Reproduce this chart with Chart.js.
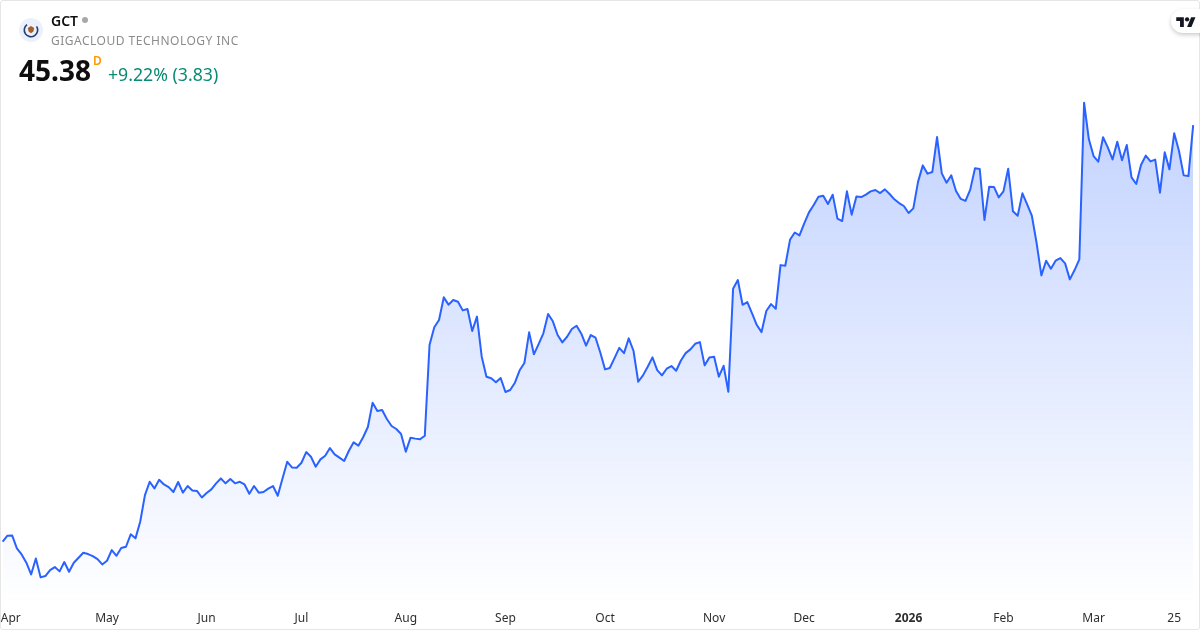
<!DOCTYPE html>
<html>
<head>
<meta charset="utf-8">
<title>GCT</title>
<script src="https://cdn.jsdelivr.net/npm/chart.js@4/dist/chart.umd.min.js"></script>
<style>
    html, body { margin: 0; padding: 0; background: #fff; }
    #wrap { position: relative; width: 1200px; height: 630px; overflow: hidden; font-family: "Noto Sans", sans-serif; }
    #frame { position: absolute; left: 0; top: 0; width: 1198px; height: 628px; border: 1px solid #e6e6e6; border-radius: 3px; pointer-events: none; }
    #logo { position: absolute; left: 19px; top: 18px; }
    .txt { position: absolute; white-space: nowrap; line-height: 1; }
    #symbol { left: 51px; top: 14px; font-size: 14px; font-weight: 600; color: #0f0f0f; }
    #dot { position: absolute; left: 82px; top: 17px; width: 6px; height: 6px; border-radius: 50%; background: #a8a8a8; }
    #name { left: 51px; top: 35px; font-size: 12px; color: #8c8c8c; letter-spacing: 0.5px; }
    #price { left: 19px; top: 56px; font-size: 28px; font-weight: 700; color: #0f0f0f; }
    #interval { left: 93px; top: 55px; font-size: 12px; font-weight: 600; color: #ff9800; }
    #change { left: 108px; top: 66px; font-size: 17.7px; color: #0a8a73; }
    #badge { position: absolute; left: 1171px; top: 9px; width: 40px; height: 24px; border-radius: 12px; background: #fff; box-shadow: 0 2px 4px rgba(0,0,0,0.2); }
    #tv { position: absolute; left: 1176px; top: 15px; }
</style>
</head>
<body>
<div id="wrap">
    <canvas id="chart" width="1200" height="630"></canvas>
    <div id="frame"></div>
    <svg id="logo" width="24" height="24" viewBox="0 0 24 24">
        <circle cx="12" cy="12" r="12" fill="#ebf0fa"/>
        <path d="M17.6 8.4A6.7 6.7 0 1 1 8 6.6" fill="none" stroke="#1f3f78" stroke-width="1.6"/>
        <path d="M8.8 10l3.2-2 3.2 2-.8 3.6-2.4 1.6-2.4-1.6z" fill="#a5602c"/>
    </svg>
    <div id="symbol" class="txt">GCT</div>
    <div id="dot"></div>
    <div id="name" class="txt">GIGACLOUD TECHNOLOGY INC</div>
    <div id="price" class="txt">45.38</div>
    <div id="interval" class="txt">D</div>
    <div id="change" class="txt">+9.22% (3.83)</div>
    <div id="badge"></div>
    <svg id="tv" width="20" height="13" viewBox="0 0 36 24">
        <path d="M14 22H7V11H0V4h14v18zM28 22h-8l7.5-18h8L28 22z" fill="#131722"/>
        <circle cx="20" cy="8" r="4" fill="#131722"/>
    </svg>
</div>
<script>
// daily closes
const closes = [
    14.09, 14.54, 14.56, 13.59, 13.13, 12.51, 11.63, 12.83, 11.41, 11.51, 11.96, 12.18,
    11.86, 12.56, 11.83, 12.51, 12.88, 13.26, 13.16, 13.01, 12.78, 12.38, 12.66, 13.46,
    13.03, 13.61, 13.71, 14.64, 14.34, 15.59, 17.59, 18.59, 18.09, 18.74, 18.39, 18.19,
    17.82, 18.57, 17.77, 18.27, 17.94, 17.89, 17.41, 17.74, 18.02, 18.47, 18.84, 18.47,
    18.79, 18.47, 18.59, 18.39, 17.69, 18.27, 17.77, 17.82, 18.07, 18.27, 17.54, 18.84,
    20.09, 19.67, 19.64, 20.02, 20.82, 20.47, 19.72, 20.27, 20.55, 21.12, 20.65, 20.40,
    20.15, 20.92, 21.55, 21.30, 21.93, 22.70, 24.53, 23.90, 23.98, 23.30, 22.78, 22.55,
    22.18, 20.85, 21.90, 21.83, 21.78, 22.05, 28.86, 30.19, 30.74, 32.44, 31.89, 32.24,
    32.11, 31.46, 31.56, 29.91, 30.99, 27.98, 26.48, 26.36, 26.06, 26.38, 25.33, 25.48,
    26.03, 26.96, 27.51, 29.81, 28.16, 28.93, 29.74, 31.19, 30.64, 29.61, 29.06, 29.48,
    30.06, 30.31, 29.71, 28.81, 29.61, 29.41, 28.30, 27.03, 27.13, 27.88, 28.65, 28.25,
    29.36, 28.43, 26.10, 26.58, 27.23, 27.93, 26.98, 26.58, 27.08, 27.28, 26.93, 27.70,
    28.25, 28.53, 28.95, 29.08, 27.33, 27.93, 27.98, 26.48, 27.30, 25.35, 33.08, 33.74,
    31.88, 32.08, 31.23, 30.36, 29.83, 31.41, 31.93, 31.58, 34.86, 34.81, 36.76, 37.31,
    37.09, 38.00, 38.82, 39.37, 40.00, 40.07, 39.45, 40.15, 38.35, 38.17, 40.40, 38.65,
    40.02, 39.97, 40.15, 40.40, 40.50, 40.27, 40.55, 40.20, 39.80, 39.52, 39.30, 38.77,
    39.12, 41.13, 42.35, 41.73, 41.85, 44.48, 41.75, 41.05, 41.60, 40.43, 39.83, 39.68,
    40.53, 42.13, 42.08, 38.25, 40.75, 40.73, 39.95, 40.40, 42.10, 38.90, 38.57, 40.25,
    39.42, 38.55, 36.50, 34.09, 35.19, 34.59, 35.19, 35.39, 34.99, 33.79, 34.49, 35.29,
    47.06, 44.33, 43.05, 42.63, 44.46, 43.70, 42.80, 44.13, 42.73, 43.88, 41.45, 40.95,
    42.38, 43.08, 42.65, 42.78, 40.30, 43.33, 42.05, 44.76, 43.45, 41.60, 41.55, 45.38
];
const tickLabels = ['Apr', 'May', 'Jun', 'Jul', 'Aug', 'Sep', 'Oct', 'Nov', 'Dec', '2026', 'Feb', 'Mar', '25'];
const tickIndexes = [1.7, 22, 43, 63, 85, 106, 127, 150, 169, 191, 211, 230, 247];

const points = closes.map((c, i) => ({x: i, y: c}));

const ctx = document.getElementById('chart').getContext('2d');
new Chart(ctx, {
    type: 'line',
    data: {
        datasets: [{
            data: points,
            borderColor: '#2962ff',
            borderWidth: 2,
            borderJoinStyle: 'round',
            pointRadius: 0,
            tension: 0,
            fill: 'start',
            backgroundColor: function (context) {
                const area = context.chart.chartArea;
                if (!area) {
                    return 'rgba(41, 98, 255, 0.2)';
                }
                const g = context.chart.ctx.createLinearGradient(0, area.top, 0, area.bottom);
                g.addColorStop(0, 'rgba(41, 98, 255, 0.34)');
                g.addColorStop(1, 'rgba(41, 98, 255, 0)');
                return g;
            }
        }]
    },
    options: {
        responsive: false,
        animation: false,
        layout: {padding: 0},
        plugins: {legend: {display: false}, tooltip: {enabled: false}},
        scales: {
            y: {display: false, min: 9.41, max: 54.77},
            x: {
                type: 'linear',
                min: -0.56,
                max: 252.44,
                border: {display: false},
                grid: {display: false, drawTicks: false},
                afterBuildTicks: function (scale) {
                    scale.ticks = tickIndexes.map(v => ({value: v}));
                },
                afterFit: function (scale) {
                    // no room for the first label, the line runs to the edge
                    scale.paddingLeft = 0;
                    scale.paddingRight = 0;
                    scale.height = 26;
                },
                ticks: {
                    autoSkip: false,
                    maxRotation: 0,
                    padding: 7,
                    color: '#2e2e2e',
                    font: function (context) {
                        return {
                            family: '"Noto Sans", sans-serif',
                            size: 12,
                            weight: context.index === 9 ? 'bold' : 'normal'
                        };
                    },
                    callback: function (value, index) {
                        return tickLabels[index];
                    }
                }
            }
        }
    }
});
</script>
</body>
</html>
